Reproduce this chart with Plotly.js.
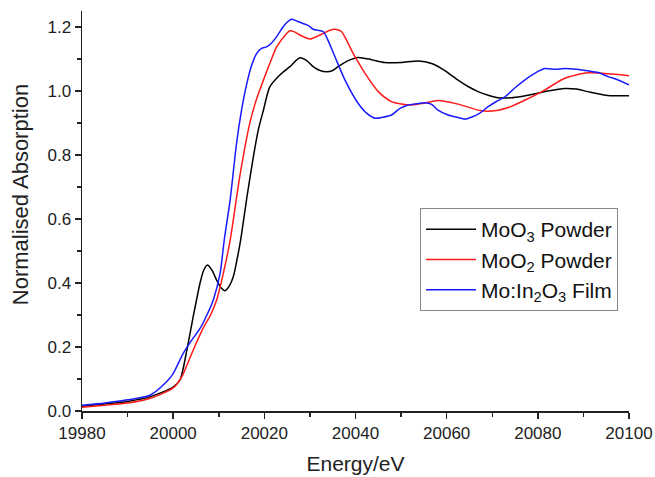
<!DOCTYPE html>
<html><head><meta charset="utf-8">
<script src="https://cdn.plot.ly/plotly-3.0.1.min.js"></script>
<style>html,body{margin:0;padding:0;background:#fff}#chart{width:655px;height:477px}</style>
</head><body><div id="chart"></div>
<script>
const moo3E = [19980,19985,19990,19995,20000,20001.5,20003,20004.4,20005.9,20006.7,20007.5,20008.5,20009.5,20010.5,20011.4,20012.3,20013.2,20014.1,20014.8,20016.2,20017.6,20018.7,20019.8,20021.2,20023.4,20025.6,20027.8,20029.3,20030.7,20032.2,20033.7,20035,20036.2,20038.4,20040.6,20043.5,20046.4,20050,20053.8,20056.7,20059.6,20062.5,20064.7,20066.9,20069.1,20071.3,20074.2,20076.4,20078.6,20082.2,20085.9,20088.5,20091,20095.4,20100];
const moo3A = [0.015,0.022,0.03,0.045,0.075,0.097,0.19,0.295,0.40,0.44,0.456,0.44,0.41,0.385,0.376,0.39,0.42,0.48,0.534,0.67,0.795,0.88,0.94,1.013,1.05,1.076,1.104,1.095,1.076,1.064,1.06,1.064,1.076,1.095,1.105,1.098,1.089,1.089,1.094,1.086,1.064,1.034,1.014,0.998,0.987,0.979,0.979,0.983,0.989,1.0,1.008,1.006,0.998,0.986,0.985];

const moo2E = [19980,19985,19990,19995,20000,20002,20003.5,20005,20006.6,20008.1,20009.5,20011,20012.5,20014.6,20016.8,20018.3,20019.8,20021.3,20022.7,20024.9,20025.6,20026.7,20027.8,20030,20032.2,20034.4,20035.5,20036.9,20038,20039.1,20040.6,20042.1,20045,20047.9,20051.6,20055,20058.1,20062.5,20067.6,20071.3,20074.2,20077.1,20081.5,20085.9,20091,20096.2,20100];
const moo2A = [0.012,0.018,0.025,0.04,0.072,0.11,0.16,0.21,0.26,0.297,0.345,0.43,0.534,0.732,0.899,0.975,1.034,1.09,1.138,1.18,1.188,1.184,1.175,1.1625,1.175,1.19,1.193,1.186,1.16,1.128,1.09,1.055,0.998,0.967,0.956,0.962,0.97,0.959,0.938,0.94,0.952,0.971,1.003,1.04,1.057,1.053,1.048];

const filmE = [19980,19985,19990,19995,19998.6,20000,20002.2,20004,20005.9,20007.4,20008.8,20010.3,20011.2,20012.5,20013.9,20015,20016.1,20017.2,20018.3,20019.4,20020.5,20021.6,20022.7,20024.1,20025,20026,20027.2,20028.5,20029.6,20030.7,20031.8,20032.9,20033.6,20034.4,20035.5,20037.7,20040.6,20042.5,20044.3,20046,20047.9,20049.7,20051.6,20053.4,20055.2,20056.7,20058.1,20060.3,20062.5,20064,20065.4,20067.2,20069.1,20071,20072.8,20075,20077.1,20079.3,20081.5,20083.7,20085.9,20088.5,20091,20093.2,20095.4,20097.5,20100];
const filmA = [0.018,0.025,0.035,0.05,0.092,0.117,0.18,0.22,0.258,0.30,0.347,0.43,0.534,0.66,0.836,0.94,1.02,1.08,1.117,1.133,1.138,1.15,1.17,1.2,1.215,1.224,1.218,1.211,1.205,1.193,1.19,1.186,1.17,1.144,1.107,1.034,0.961,0.93,0.915,0.918,0.925,0.945,0.956,0.96,0.963,0.958,0.94,0.925,0.917,0.912,0.918,0.93,0.951,0.968,0.982,1.01,1.034,1.055,1.07,1.068,1.07,1.068,1.063,1.058,1.045,1.035,1.019];

const seriesNames = ['MoO<sub>3</sub> Powder','MoO<sub>2</sub> Powder','Mo:In<sub>2</sub>O<sub>3</sub> Film'];
const xTickVals = [19980,20000,20020,20040,20060,20080,20100];
const yTickVals = [0.0,0.2,0.4,0.6,0.8,1.0,1.2];
const xTitle = 'Energy/eV';
const yTitle = 'Normalised Absorption';

const font = 'Liberation Sans, Arial, sans-serif';
const traces = [
  {x: moo3E, y: moo3A, name: seriesNames[0], mode:'lines', line:{color:'#000000', width:1.5, shape:'spline', smoothing:0.7}},
  {x: moo2E, y: moo2A, name: seriesNames[1], mode:'lines', line:{color:'#ff1a1a', width:1.5, shape:'spline', smoothing:0.7}},
  {x: filmE, y: filmA, name: seriesNames[2], mode:'lines', line:{color:'#1a1aff', width:1.5, shape:'spline', smoothing:0.7}}
];
const axisCommon = {
  showline:true, linecolor:'#222', linewidth:1.5, mirror:false, showgrid:false, zeroline:false,
  ticks:'outside', ticklen:6, tickwidth:1.5, tickcolor:'#222',
  tickfont:{family:font, size:17, color:'#222'}
};
const layout = {
  width:655, height:477,
  margin:{l:82, r:26, t:11, b:66},
  paper_bgcolor:'#fff', plot_bgcolor:'#fff',
  showlegend:true,
  legend:{x:0.618, y:0.5075, xanchor:'left', yanchor:'top', bordercolor:'#888', borderwidth:1,
          font:{family:font, size:21, color:'#111'}, bgcolor:'#fff', tracegroupgap:0, itemwidth:50},
  xaxis: Object.assign({}, axisCommon, {
    range:[19980,20100], tickvals:xTickVals, ticktext:xTickVals.map(String),
    minor:{dtick:10, tick0:19980, ticks:'outside', ticklen:4, tickwidth:1.5, tickcolor:'#222', showgrid:false},
    title:{text:xTitle, font:{family:font, size:21, color:'#222'}, standoff:14}
  }),
  yaxis: Object.assign({}, axisCommon, {
    range:[0,1.25], tickvals:yTickVals, ticktext:yTickVals.map(v=>v.toFixed(1)),
    minor:{dtick:0.1, tick0:0, ticks:'outside', ticklen:4, tickwidth:1.5, tickcolor:'#222', showgrid:false}
  }),
  annotations:[{
    text:yTitle, textangle:-90, showarrow:false,
    xref:'paper', yref:'paper', x:-0.113, y:0.54, xanchor:'center', yanchor:'middle',
    font:{family:font, size:22, color:'#222'}
  }]
};
Plotly.newPlot('chart', traces, layout, {displayModeBar:false, staticPlot:true});
</script>
</body></html>
